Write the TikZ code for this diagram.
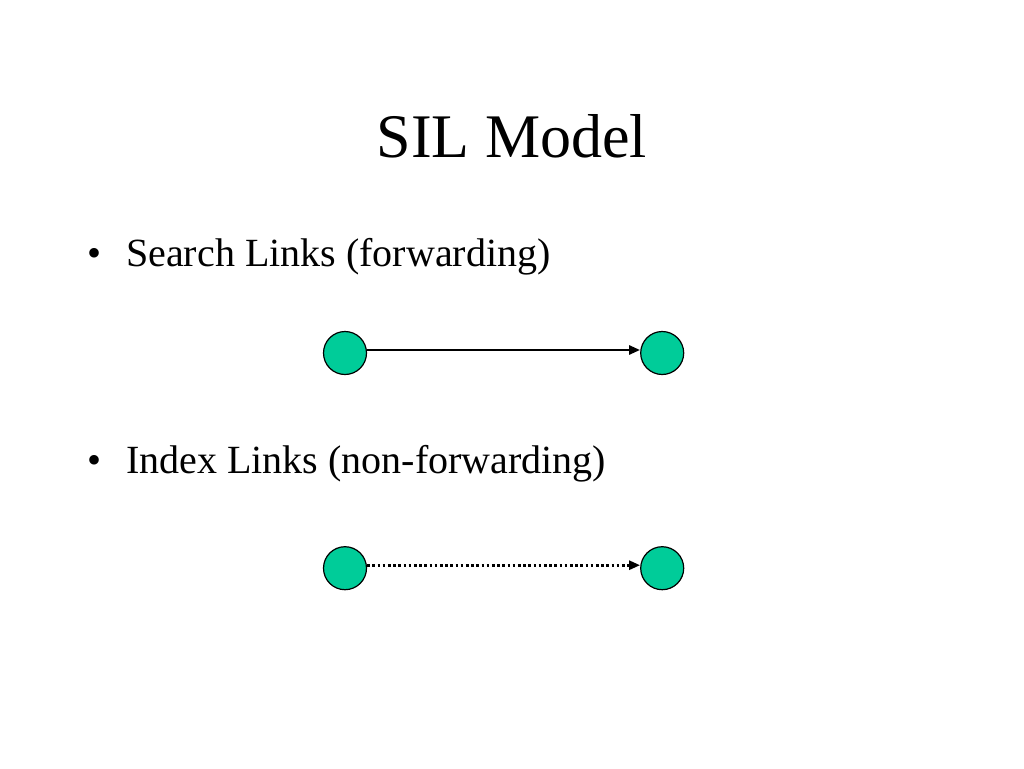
\documentclass[tikz,border=0pt]{standalone}
\usepackage{fontspec}
\setmainfont{Liberation Serif}
\usetikzlibrary{positioning,arrows.meta}
\definecolor{peergreen}{RGB}{0,204,153}

\begin{document}
\begin{tikzpicture}[x=1pt,y=-1pt,
					peer/.style={circle, draw=black, fill=peergreen, line width=1.2pt, minimum size=43pt, inner sep=0pt},
					heading/.style={anchor=base, font=\fontsize{62}{70}\selectfont},
					item/.style={anchor=base west, inner sep=0pt, font=\fontsize{40}{48}\selectfont},
					link/.style={line width=2.6pt, -{Triangle[length=11pt,width=9pt]}}
				]
				\useasboundingbox (0,0) rectangle (1024,768);
				\node[heading] (title) at (512,157) {SIL Model};
				\node[item] (searchdot) at (87,266) {\textbullet};
				\node[item] (searchtext) at (126,266) {Search Links (forwarding)};
				\node[item] (indexdot) at (87,473) {\textbullet};
				\node[item] (indextext) at (126,473) {Index Links (non-forwarding)};
				\node[peer] (searchfrom) at (345,353) {};
				\node[peer] (searchto) [right=273pt of searchfrom] {};
				\node[peer] (indexfrom) [below=171pt of searchfrom] {};
				\node[peer] (indexto) [right=273pt of indexfrom] {};
				\draw[link] ([yshift=3pt]searchfrom.east) -- ([yshift=3pt]searchto.west);
				\draw[link, dash pattern=on 2.6pt off 2.6pt] ([yshift=3pt]indexfrom.east) -- ([yshift=3pt]indexto.west);
				\end{tikzpicture}
\end{document}
